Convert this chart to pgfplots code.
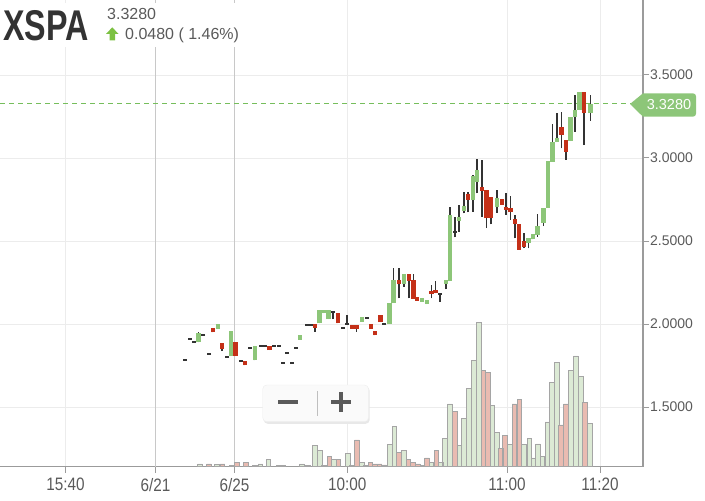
\documentclass[border=0pt]{standalone}
\usepackage{fontspec}
\setmainfont{Liberation Sans}
\newfontfamily\condfont[FakeStretch=0.85]{Liberation Sans}
\newfontfamily\titlefont[FakeStretch=0.75]{Liberation Sans}
\usepackage{pgfplots}
\usepackage{pgfplotstable}
\pgfplotsset{compat=1.18}

\definecolor{cgreen}{RGB}{141,198,121}
\definecolor{cred}{RGB}{196,48,24}
\definecolor{wickc}{RGB}{51,51,51}
\definecolor{gridc}{RGB}{236,236,236}
\definecolor{dayc}{RGB}{200,200,200}
\definecolor{axisc}{RGB}{155,155,155}
\definecolor{labc}{RGB}{90,90,90}
\definecolor{titlec}{RGB}{51,51,51}
\definecolor{pricec}{RGB}{118,190,92}
\definecolor{arrowc}{RGB}{124,193,66}
\definecolor{volg}{RGB}{220,234,213}
\definecolor{volp}{RGB}{233,187,177}
\definecolor{volline}{RGB}{165,165,165}

\begin{document}
\begin{tikzpicture}

% candles: x (time position), open, high, low, close
\pgfplotstableread{
x o h l c
198.3 1.890 1.954 1.890 1.948
218 1.970 2.002 1.970 2.002
231 1.807 1.956 1.807 1.956
255 1.781 1.866 1.781 1.866
300 1.904 1.932 1.904 1.932
319.5 2.004 2.086 2.004 2.086
324 2.066 2.086 2.066 2.084
328.5 2.030 2.084 2.030 2.084
362 2.014 2.042 2.014 2.042
389.5 2.002 2.128 2.002 2.128
393.7 2.128 2.337 2.128 2.265
404 2.239 2.301 2.225 2.301
422 2.134 2.157 2.134 2.157
427 2.120 2.146 2.120 2.146
446 2.241 2.265 2.209 2.265
450 2.259 2.703 2.259 2.657
459 2.620 2.717 2.556 2.646
464 2.681 2.797 2.667 2.711
473 2.747 2.898 2.677 2.892
477 2.857 2.992 2.787 2.928
497 2.703 2.807 2.669 2.757
528.5 2.490 2.516 2.456 2.516
533 2.510 2.540 2.510 2.540
537.7 2.536 2.661 2.526 2.590
543.3 2.607 2.701 2.590 2.701
548 2.701 2.982 2.701 2.982
552.7 2.978 3.203 2.978 3.098
557 3.095 3.269 3.095 3.119
570.8 3.102 3.245 3.102 3.245
575 3.245 3.380 3.158 3.289
579.3 3.289 3.399 3.289 3.399
590.3 3.269 3.380 3.223 3.328
}\greentab

\pgfplotstableread{
x o h l c
213 1.974 1.974 1.950 1.950
222 1.886 1.886 1.837 1.848
235.3 1.893 1.893 1.807 1.807
245 1.777 1.777 1.751 1.751
269.3 1.867 1.867 1.842 1.842
315 2.002 2.002 1.954 1.976
338 2.068 2.068 2.004 2.004
352 1.994 1.994 1.970 1.970
356.5 1.994 1.994 1.954 1.970
371 1.998 1.998 1.970 1.970
375 1.958 1.958 1.932 1.932
380.5 2.056 2.056 2.012 2.012
399 2.265 2.335 2.155 2.239
409 2.301 2.301 2.155 2.261
413.3 2.265 2.300 2.151 2.151
417 2.164 2.164 2.140 2.140
431.3 2.201 2.235 2.155 2.181
435.7 2.205 2.261 2.185 2.185
468 2.781 2.797 2.673 2.747
482 2.827 2.988 2.646 2.803
486.5 2.807 2.807 2.578 2.637
491 2.763 2.763 2.600 2.637
502 2.753 2.753 2.717 2.717
506 2.707 2.791 2.657 2.687
510.5 2.701 2.773 2.627 2.673
515 2.631 2.657 2.516 2.602
519 2.602 2.602 2.446 2.446
524 2.502 2.550 2.456 2.466
561.7 3.189 3.279 3.058 3.139
566 3.108 3.108 2.988 3.038
584 3.399 3.399 3.078 3.269
}\redtab

% flat candles (open = close)
\pgfplotstableread{
x y h l
185 1.781 1.781 1.781
189.7 1.908 1.908 1.908
194.3 1.890 1.890 1.890
203.3 1.936 1.936 1.936
209.3 1.817 1.817 1.817
227.3 1.799 1.799 1.799
240.7 1.775 1.775 1.775
249.7 1.854 1.854 1.854
260.7 1.866 1.866 1.866
265 1.866 1.866 1.866
274 1.866 1.866 1.866
278.7 1.866 1.866 1.866
282.7 1.763 1.763 1.763
287.3 1.827 1.827 1.827
291.7 1.763 1.763 1.763
296 1.854 1.854 1.854
307 1.992 1.992 1.992
311.3 1.992 1.992 1.992
333 2.070 2.078 2.030
342.7 1.974 1.974 1.974
347 2.000 2.054 2.000
366.7 2.038 2.038 2.038
384.3 1.998 1.998 1.998
440 2.181 2.181 2.135
455 2.554 2.646 2.522
}\dojitab

% volume (bar height in the volume pane)
\pgfplotstableread{
x v
200 2.7
217 2
231.5 1.3
255 1.3
260.5 2.7
268.5 7.3
302 2.7
308 1.3
315 21
319.7 16
324 1.5
334 7
347.7 13
352 1.5
361.7 4
366 1
389.7 22.3
394.3 40
403.7 16
422 1
431.5 4
440.7 4
445 28.3
450 62.7
459.5 21
463.7 48
468.7 78
473.7 106.3
478.7 144
492.3 61.3
497 34.3
510 22.3
524 22.3
529.3 28.3
533.5 8.7
538 22.7
542.5 10
547.3 44.7
551.8 84
556.7 104
570.8 96
575.8 110.7
580.8 90
589.8 43.3
}\volgreen

\pgfplotstableread{
x v
209 2.7
222.5 2.7
237 4
246 4
278.5 1.3
283.5 1.3
329.3 10.3
338.5 7
357 26.7
370.3 4
375 2.7
379.5 2.7
384 1.7
399 14.3
408.3 7
413 4
417.7 2.7
427 8.7
436.3 16
455 55.3
483.3 96
487.7 94.3
501 18
505 31.3
514.3 62.7
519.3 67.3
561.2 41.7
565.8 62.7
585 64
}\volpink

% last traded price
\pgfplotstableread{
x y
0 3.328
631 3.328
}\lasttab

\pgfplotsset{
  candle/.style 2 args={draw=none, mark=none, forget plot,
    error bars/.cd, y dir=plus, y explicit, error mark=none,
    error bar style={line width=#1, draw=#2}},
}

\begin{axis}[
  at={(0pt,34.3pt)}, anchor=south west,
  scale only axis, width=643pt, height=466.7pt,
  xmin=0, xmax=643, ymin=1.1404, ymax=3.9518,
  axis x line*=bottom, axis y line*=right,
  axis line style={draw=axisc, line width=1.1pt},
  xtick={65.5,347.3,507,600},
  xticklabels={15:40,10:00,11:00,11:20},
  extra x ticks={155.5,234.5},
  extra x tick labels={6/21,6/25},
  extra x tick style={major grid style={draw=dayc, line width=0.9pt}},
  ytick={1.5,2,2.5,3,3.5},
  grid=major,
  major grid style={draw=gridc, line width=0.9pt},
  tick align=outside,
  major tick length=6pt,
  tick style={draw=axisc, line width=1pt},
  x tick label style={font=\condfont\fontsize{18}{18}\selectfont, text=labc, yshift=-2pt},
  y tick label style={font=\fontsize{14}{14}\selectfont, text=labc, inner sep=1pt,
    /pgf/number format/fixed, /pgf/number format/fixed zerofill,
    /pgf/number format/precision=4, /pgf/number format/assume math mode=true},
]
% last price line
\addplot[pricec, solid, line width=1.6pt, dash pattern=on 5pt off 4pt, mark=none, forget plot]
  table[x=x, y=y] {\lasttab};

% wicks
\addplot[candle={1.2pt}{wickc}]
  table[x=x, y=l, y error expr=\thisrow{h}-\thisrow{l}] {\greentab};
\addplot[candle={1.2pt}{wickc}]
  table[x=x, y=l, y error expr=\thisrow{h}-\thisrow{l}] {\redtab};
\addplot[candle={1.2pt}{wickc}]
  table[x=x, y=l, y error expr=\thisrow{h}-\thisrow{l}] {\dojitab};

% bodies
\addplot[candle={4.8pt}{cgreen}]
  table[x=x, y=o, y error expr=\thisrow{c}-\thisrow{o}] {\greentab};
\addplot[candle={4.8pt}{cred}]
  table[x=x, y=c, y error expr=\thisrow{o}-\thisrow{c}] {\redtab};
\addplot[only marks, mark=-, mark size=1.9pt, mark options={line width=1.8pt, draw=wickc}, forget plot]
  table[x=x, y=y] {\dojitab};
\end{axis}

\begin{axis}[
  at={(0pt,34.3pt)}, anchor=south west,
  scale only axis, width=643pt, height=466.7pt,
  xmin=0, xmax=643, ymin=0, ymax=466.7,
  hide axis,
  ybar, bar width=4.6pt, bar shift=0pt,
]
\addplot[fill=volg, draw=volline, line width=0.9pt] table[x=x, y=v] {\volgreen};
\addplot[fill=volp, draw=volline, line width=0.9pt] table[x=x, y=v] {\volpink};
\end{axis}

% header, price tag and zoom control (image pixel coordinates, y downwards)
\begin{scope}[shift={(0pt,501pt)}, x=1pt, y=-1pt]
  \fill[white] (0,3) rectangle (246,47);
  \node[anchor=base west, inner sep=0pt, text=titlec,
        font=\titlefont\bfseries\fontsize{43}{43}\selectfont] at (3,40.7) {XSPA};
  \node[anchor=base west, inner sep=0pt, text=labc,
        font=\fontsize{16}{16}\selectfont] at (107,19.2) {3.3280};
  \fill[arrowc] (106,34) -- (112.3,27.3) -- (118.5,34) -- (115,34) -- (115,40.5)
                -- (109.6,40.5) -- (109.6,34) -- cycle;
  \node[anchor=base west, inner sep=0pt, text=labc,
        font=\fontsize{16}{16}\selectfont] at (125,39.3) {0.0480 ( 1.46\%)};

  \fill[cgreen] (630,104) -- (643,93.3) [rounded corners=3pt] -- (696,93.3)
                -- (696,116.7) [sharp corners] -- (643,116.7) -- cycle;
  \node[text=white, inner sep=0pt, font=\fontsize{14.5}{14.5}\selectfont] at (669,104.5) {3.3280};

  \fill[black!9, rounded corners=4pt] (263.7,386.8) rectangle (369.7,423.8);
  \filldraw[fill=black!2, draw=black!7, rounded corners=4pt] (262.7,385) rectangle (368.5,421.7);
  \fill[labc] (278,400) rectangle (298,404.5);
  \draw[black!25, line width=0.9pt] (317.3,391) -- (317.3,416);
  \fill[labc] (331,400) rectangle (351,404.5);
  \fill[labc] (338.8,392) rectangle (343.3,412.5);
\end{scope}

\pgfresetboundingbox
\useasboundingbox (0pt,0pt) rectangle (705pt,501pt);
\end{tikzpicture}
\end{document}
